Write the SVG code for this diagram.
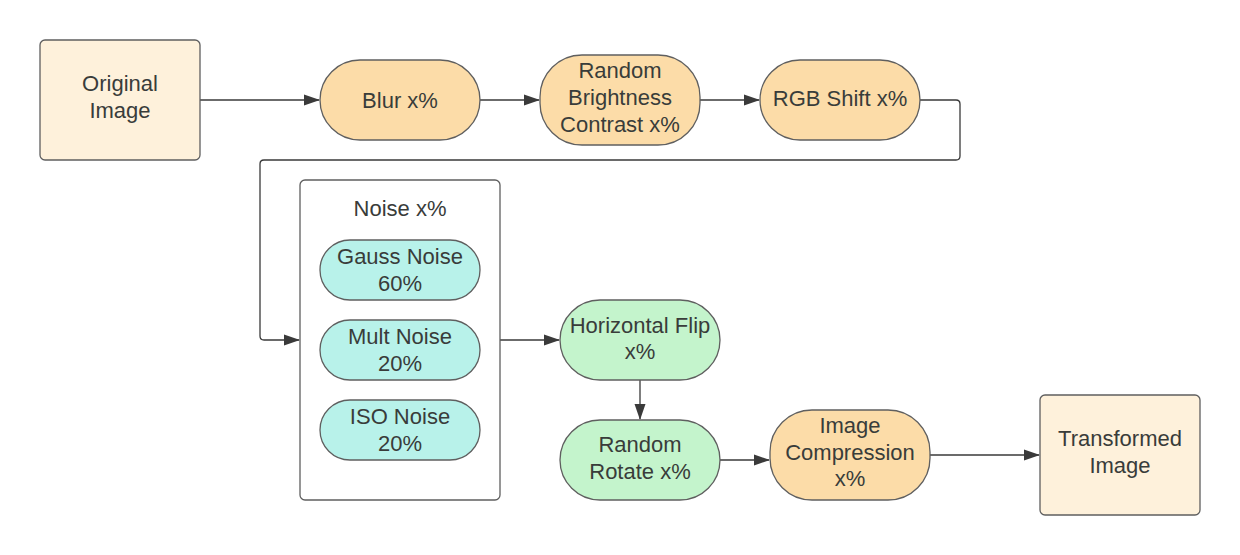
<svg xmlns="http://www.w3.org/2000/svg" width="1240" height="555" viewBox="0 0 1240 555">
<style>
text{font-family:"Liberation Sans",Arial,sans-serif;font-size:22px;fill:#393c3a;text-anchor:middle}
.box{stroke:#5f5f5f;stroke-width:1.3}
.cream{fill:#fef1db}
.orange{fill:#fcdca8}
.teal{fill:#b8f2ea}
.green{fill:#c4f4cc}
.cont{fill:#ffffff}
.conn{fill:none;stroke:#3a3a3a;stroke-width:1.3}
</style>
<defs>
<marker id="ah" markerWidth="16" markerHeight="12" refX="15" refY="6" orient="auto" markerUnits="userSpaceOnUse">
<path d="M0,0.5 L16,6 L0,11.5 Z" fill="#3a3a3a"/>
</marker>
</defs>
<rect width="1240" height="555" fill="#ffffff"/>
<g id="connectors">
<path class="conn" d="M200,100 H319" marker-end="url(#ah)"/>
<path class="conn" d="M480,100 H539" marker-end="url(#ah)"/>
<path class="conn" d="M700,100 H759" marker-end="url(#ah)"/>
<path class="conn" d="M920,100 H956 Q960,100 960,104 V156 Q960,160 956,160 H264 Q260,160 260,164 V336 Q260,340 264,340 H299" marker-end="url(#ah)"/>
<path class="conn" d="M500,340 H559" marker-end="url(#ah)"/>
<path class="conn" d="M640,380 V419" marker-end="url(#ah)"/>
<path class="conn" d="M720,460 H769" marker-end="url(#ah)"/>
<path class="conn" d="M930,455 H1039" marker-end="url(#ah)"/>
</g>
<g id="original">
<rect class="box cream" x="40" y="40" width="160" height="120" rx="5"/>
<text x="120" y="91">Original</text>
<text x="120" y="118">Image</text>
</g>
<g id="blur">
<rect class="box orange" x="320" y="60" width="160" height="80" rx="40"/>
<text x="400" y="108">Blur x%</text>
</g>
<g id="brightness">
<rect class="box orange" x="540" y="55" width="160" height="90" rx="42"/>
<text x="620" y="78">Random</text>
<text x="620" y="105">Brightness</text>
<text x="620" y="132">Contrast x%</text>
</g>
<g id="rgbshift">
<rect class="box orange" x="760" y="60" width="160" height="80" rx="40"/>
<text x="840" y="106">RGB Shift x%</text>
</g>
<g id="noise">
<rect class="box cont" x="300" y="180" width="200" height="320" rx="5"/>
<text x="400" y="216">Noise x%</text>
</g>
<g id="gauss">
<rect class="box teal" x="320" y="240" width="160" height="60" rx="30"/>
<text x="400" y="264">Gauss Noise</text>
<text x="400" y="291">60%</text>
</g>
<g id="mult">
<rect class="box teal" x="320" y="320" width="160" height="60" rx="30"/>
<text x="400" y="344">Mult Noise</text>
<text x="400" y="371">20%</text>
</g>
<g id="iso">
<rect class="box teal" x="320" y="400" width="160" height="60" rx="30"/>
<text x="400" y="424">ISO Noise</text>
<text x="400" y="451">20%</text>
</g>
<g id="hflip">
<rect class="box green" x="560" y="300" width="160" height="80" rx="40"/>
<text x="640" y="333">Horizontal Flip</text>
<text x="640" y="359">x%</text>
</g>
<g id="rotate">
<rect class="box green" x="560" y="420" width="160" height="80" rx="40"/>
<text x="640" y="452">Random</text>
<text x="640" y="479">Rotate x%</text>
</g>
<g id="compression">
<rect class="box orange" x="770" y="410" width="160" height="90" rx="42"/>
<text x="850" y="433">Image</text>
<text x="850" y="460">Compression</text>
<text x="850" y="486">x%</text>
</g>
<g id="transformed">
<rect class="box cream" x="1040" y="395" width="160" height="120" rx="5"/>
<text x="1120" y="446">Transformed</text>
<text x="1120" y="473">Image</text>
</g>
</svg>
